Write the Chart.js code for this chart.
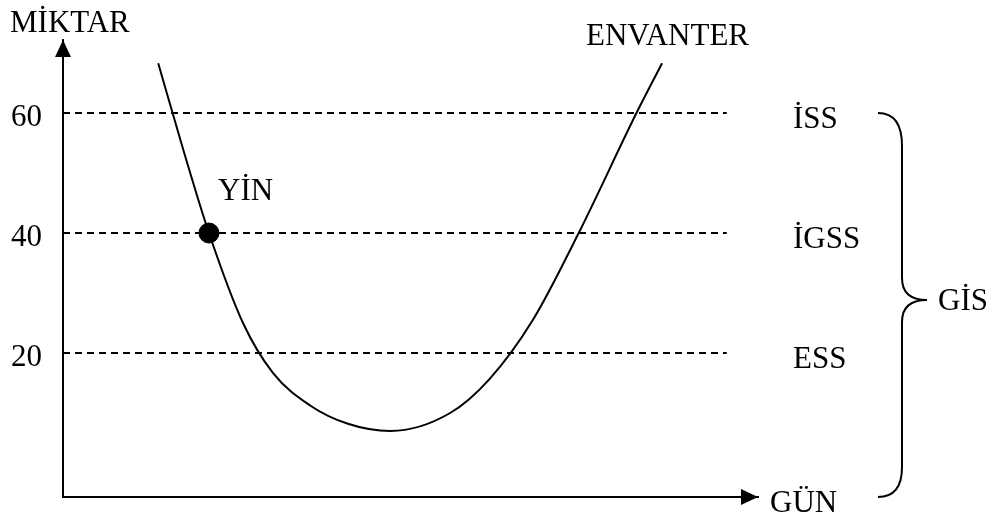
<!DOCTYPE html>
<html>
<head>
<meta charset="utf-8">
<script src="https://cdn.jsdelivr.net/npm/chart.js@4/dist/chart.umd.min.js"></script>
<style>
  body { margin: 0; background: #fff; }
  #wrap { width: 991px; height: 517px; }
</style>
</head>
<body>
<div id="wrap"><canvas id="chart" width="991" height="517"></canvas></div>
<script>
// Inventory curve (x = day, y = quantity)
const curveX = [13.7, 17.4, 21.0, 25.9, 30.2, 35.5, 41.0, 47.1, 55.7, 61.4, 67.6, 74.2, 82.6, 86.2];
const curveY = [68.3, 53.5, 40, 25, 16.7, 11.3, 8.2, 7, 10, 15.7, 25.5, 40, 60.2, 68.3];

// Reference levels
const levels = [20, 40, 60];
const levelNames = ['ESS', 'İGSS', 'İSS'];
const levelEnd = 95.5;

// Marked point
const markX = [21.0];
const markY = [40];
const markName = 'YİN';

const yTicks = [20, 40, 60];
const yTitle = 'MİKTAR';
const xTitle = 'GÜN';
const curveName = 'ENVANTER';
const braceName = 'GİS';

const FONT = '31px "Liberation Serif", "Times New Roman", serif';

const curvePoints = curveX.map((x, i) => ({ x, y: curveY[i] }));

const levelSets = levels.map(v => ({
  data: [{ x: 0, y: v }, { x: levelEnd, y: v }],
  showLine: true,
  borderColor: '#000',
  borderWidth: 2,
  borderDash: [7, 5],
  pointRadius: 0
}));

// arrows, brace and free text
const decor = {
  id: 'decor',
  afterDraw(chart) {
    const ctx = chart.ctx;
    const area = chart.chartArea;
    const ys = chart.scales.y;
    ctx.save();
    ctx.fillStyle = '#000';
    ctx.strokeStyle = '#000';

    // arrow heads
    ctx.beginPath();
    ctx.moveTo(area.left, area.top);
    ctx.lineTo(area.left - 8, area.top + 17);
    ctx.lineTo(area.left + 8, area.top + 17);
    ctx.closePath();
    ctx.fill();
    ctx.beginPath();
    ctx.moveTo(area.right, area.bottom);
    ctx.lineTo(area.right - 17, area.bottom - 8);
    ctx.lineTo(area.right - 17, area.bottom + 8);
    ctx.closePath();
    ctx.fill();

    // brace
    const bx = area.right + 144;
    const top = ys.getPixelForValue(60);
    const bot = area.bottom;
    const mid = 300;
    ctx.lineWidth = 2;
    ctx.beginPath();
    ctx.moveTo(bx - 24, top);
    ctx.quadraticCurveTo(bx, top, bx, top + 33);
    ctx.lineTo(bx, mid - 22);
    ctx.quadraticCurveTo(bx, mid, bx + 25, mid);
    ctx.quadraticCurveTo(bx, mid, bx, mid + 22);
    ctx.lineTo(bx, bot - 30);
    ctx.quadraticCurveTo(bx, bot, bx - 24, bot);
    ctx.stroke();

    // texts
    ctx.font = FONT;
    ctx.textBaseline = 'alphabetic';
    ctx.textAlign = 'left';
    ctx.fillText(yTitle, 10, 32);
    ctx.fillText(curveName, 586, 45);
    ctx.fillText(xTitle, area.right + 12, area.bottom + 15);
    ctx.fillText(markName, 218, 200);
    ctx.fillText(braceName, bx + 36, mid + 10);
    levels.forEach((v, i) => {
      ctx.fillText(levelNames[i], area.right + 35, ys.getPixelForValue(v) + 15);
    });
    ctx.restore();
  }
};

new Chart(document.getElementById('chart'), {
  type: 'scatter',
  data: {
    datasets: [
      ...levelSets,
      {
        data: curvePoints,
        showLine: true,
        borderColor: '#000',
        borderWidth: 2,
        cubicInterpolationMode: 'monotone',
        pointRadius: 0
      },
      {
        data: markX.map((x, i) => ({ x, y: markY[i] })),
        pointRadius: 10,
        pointBackgroundColor: '#000',
        pointBorderColor: '#000'
      }
    ]
  },
  options: {
    responsive: false,
    animation: false,
    layout: { padding: { top: 40, right: 233, left: 0, bottom: 0 } },
    plugins: { legend: { display: false }, tooltip: { enabled: false } },
    scales: {
      x: {
        type: 'linear',
        min: 0,
        max: 100,
        grid: { display: false, drawTicks: false },
        ticks: { display: false },
        border: { display: true, color: '#000', width: 2 },
        afterFit: s => { s.height = 20; }
      },
      y: {
        type: 'linear',
        min: -4,
        max: 72.17,
        grid: { display: false, drawTicks: false },
        border: { display: true, color: '#000', width: 2 },
        afterBuildTicks: s => { s.ticks = yTicks.map(v => ({ value: v })); },
        afterFit: s => { s.width = 63; s.paddingTop = 0; s.paddingBottom = 0; },
        ticks: {
          color: '#000',
          padding: 21,
          labelOffset: 5,
          font: { family: '"Liberation Serif", "Times New Roman", serif', size: 31 }
        }
      }
    }
  },
  plugins: [decor]
});
</script>
</body>
</html>
